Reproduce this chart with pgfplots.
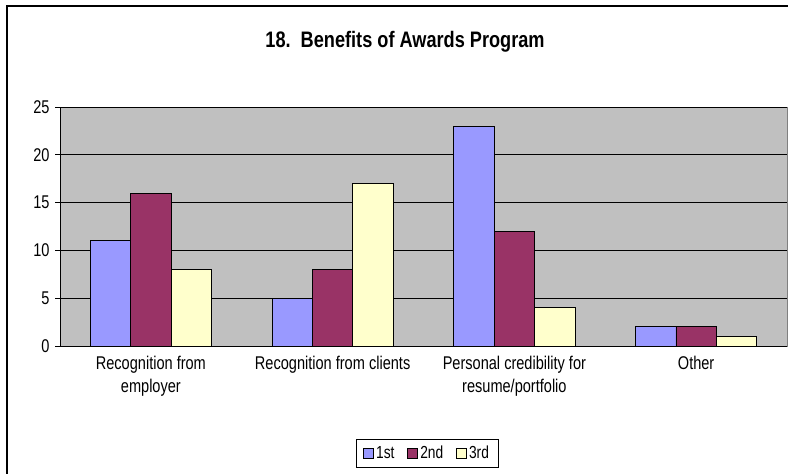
\documentclass[border=0pt]{standalone}
\usepackage{fontspec}
\setmainfont{Liberation Sans}
\newfontfamily\narrowfont[FakeStretch=0.79]{Liberation Sans}
\newfontfamily\narrowbold[FakeStretch=0.81]{Liberation Sans Bold}
\usepackage{pgfplots}
\pgfplotsset{compat=1.18}
\definecolor{cA}{HTML}{9999FF}
\definecolor{cB}{HTML}{993366}
\definecolor{cC}{HTML}{FFFFCC}
\definecolor{plotbg}{HTML}{C0C0C0}
\definecolor{bordergray}{HTML}{808080}
\begin{document}
\begin{tikzpicture}[x=1bp,y=1bp]
\useasboundingbox (0,0) rectangle (788,474);
\draw[black,line width=1.2bp] (7,-10) -- (7,468) -- (800,468);
\node[anchor=base, inner sep=0pt, font=\narrowbold\fontsize{22.5}{26}\selectfont] at (405,426) {18.\ \ Benefits of Awards Program};
\begin{axis}[
  at={(60bp,128bp)}, anchor=south west,
  scale only axis, width=727bp, height=239bp,
  ymin=0, ymax=25, xmin=-0.5, xmax=3.5,
  ybar=0pt, bar width=40.4bp,
  ytick={0,5,...,25},
  xtick={0,1,2,3},
  xticklabels={{Recognition from\\employer},{Recognition from clients},{Personal credibility for\\resume/portfolio},{Other}},
  xticklabel style={align=center, font=\narrowfont\fontsize{18.5}{23}\selectfont, yshift=-2bp},
  yticklabel style={font=\narrowfont\fontsize{18.5}{20}\selectfont, xshift=-2bp},
  /pgf/number format/assume math mode=true,
  x tick style={draw=none},
  y tick style={black, line width=0.6bp},
  tick align=outside, major tick length=5bp,
  extra x ticks={-0.5,0.5,1.5,2.5,3.5},
  extra x tick labels={},
  extra x tick style={x tick style={black,line width=0.6bp}, major tick length=5bp, tick align=outside},
  ymajorgrids, grid style={black, line width=0.6bp},
  axis background/.style={fill=plotbg, draw=bordergray, line width=0.8bp},
  separate axis lines,
  axis x line*=bottom, axis y line*=left,
  x axis line style={black, line width=0.8bp, -},
  y axis line style={black, line width=0.8bp, -},
  legend columns=3,
  legend style={at={(0.505,-0.448)}, anchor=center, draw=black, line width=0.6bp,
    font=\narrowfont\fontsize{17.5}{19}\selectfont, inner xsep=7bp, inner ysep=5bp,
    /tikz/every even column/.append style={column sep=11bp}},
  legend image code/.code={\draw[#1, draw=black, line width=0.8bp] (0bp,-5bp) rectangle (10bp,5bp);},
]
\addplot[fill=cA, draw=black, line width=0.8bp] coordinates {(0,11) (1,5) (2,23) (3,2)};
\addplot[fill=cB, draw=black, line width=0.8bp] coordinates {(0,16) (1,8) (2,12) (3,2)};
\addplot[fill=cC, draw=black, line width=0.8bp] coordinates {(0,8) (1,17) (2,4) (3,1)};
\legend{1st,2nd,3rd}
\end{axis}
\end{tikzpicture}
\end{document}
